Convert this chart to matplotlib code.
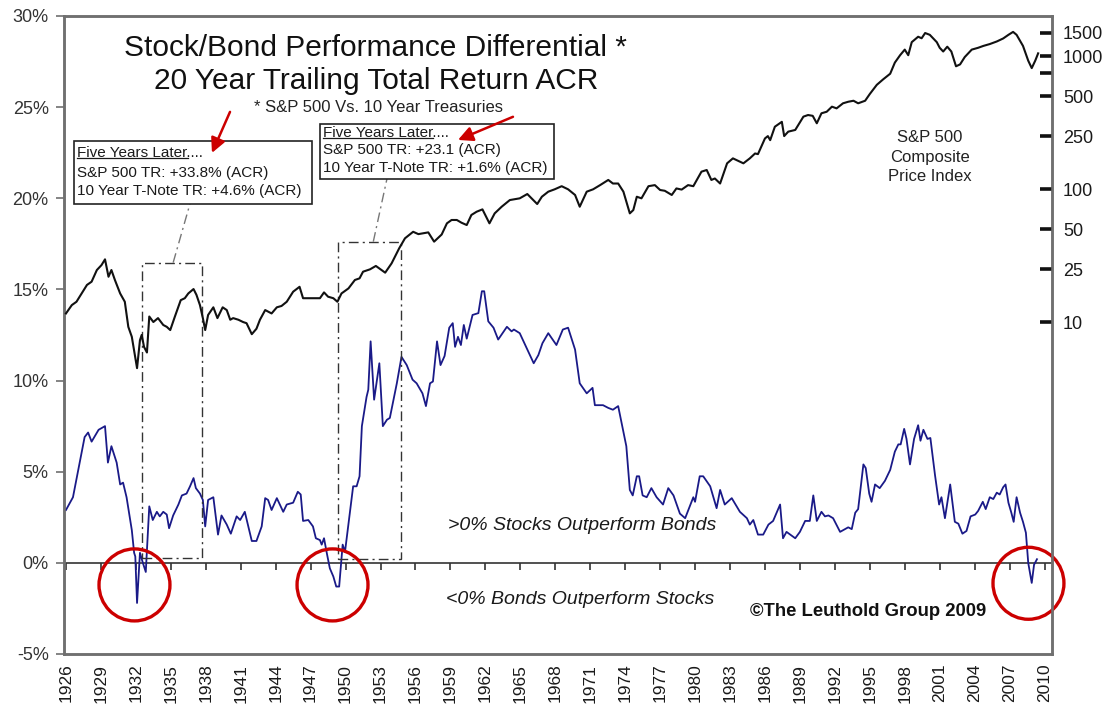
import matplotlib
matplotlib.use("Agg")
import matplotlib.pyplot as plt
from matplotlib.patches import Rectangle, Ellipse
from matplotlib.lines import Line2D
from matplotlib.ticker import NullLocator

plt.rcParams['font.family'] = ['Liberation Sans', 'DejaVu Sans']

# ---------------- data ----------------
x_ticks = list(range(1926, 2011, 3))
x_labels = [str(y) for y in x_ticks]
y_ticks = [-5, 0, 5, 10, 15, 20, 25, 30]
y_labels = ['-5%', '0%', '5%', '10%', '15%', '20%', '25%', '30%']
r_ticks = [10, 25, 50, 100, 250, 500, 750, 1000, 1500]
r_labels = ['10', '25', '50', '100', '250', '500', '', '1000', '1500']

# Stock/Bond 20y trailing total return differential (%)
blue_years = [1926.0, 1926.6, 1927.6, 1927.9, 1928.2, 1928.8, 1929.35, 1929.6, 1929.9, 1930.35,
              1930.65, 1930.9, 1931.2, 1931.65, 1931.85, 1931.95, 1932.1, 1932.35, 1932.6, 1932.85,
              1933.15, 1933.45, 1933.8, 1934.05, 1934.35, 1934.65, 1934.85, 1935.2, 1935.65, 1935.95,
              1936.35, 1936.65, 1936.95, 1937.15, 1937.5, 1937.75, 1937.95, 1938.2, 1938.65, 1939.05,
              1939.35, 1939.8, 1940.15, 1940.65, 1940.95, 1941.35, 1941.95, 1942.35, 1942.8, 1943.1,
              1943.35, 1943.65, 1944.1, 1944.65, 1944.95, 1945.5, 1945.9, 1946.15, 1946.35, 1946.8,
              1947.2, 1947.45, 1947.8, 1947.95, 1948.15, 1948.4, 1948.65, 1948.95, 1949.2, 1949.45,
              1949.75, 1949.95, 1950.4, 1950.65, 1950.95, 1951.2, 1951.4, 1951.8, 1951.95, 1952.15,
              1952.45, 1952.9, 1953.2, 1953.55, 1953.8, 1954.4, 1954.8, 1955.25, 1955.75, 1956.1,
              1956.6, 1956.9, 1957.25, 1957.5, 1957.85, 1958.15, 1958.5, 1958.9, 1959.2, 1959.4,
              1959.65, 1959.9, 1960.15, 1960.4, 1960.9, 1961.4, 1961.7, 1961.9, 1962.25, 1962.7,
              1963.1, 1963.85, 1964.25, 1964.45, 1964.95, 1965.6, 1966.15, 1966.55, 1966.9, 1967.4,
              1968.1, 1968.65, 1969.1, 1969.7, 1970.1, 1970.7, 1971.2, 1971.4, 1972.1, 1972.55,
              1972.95, 1973.4, 1973.7, 1974.1, 1974.4, 1974.65, 1975.0, 1975.2, 1975.5, 1975.85,
              1976.25, 1976.7, 1977.25, 1977.7, 1978.15, 1978.7, 1979.15, 1979.85, 1980.0, 1980.4,
              1980.7, 1981.3, 1981.85, 1982.15, 1982.55, 1983.15, 1983.85, 1984.45, 1984.7, 1985.0,
              1985.4, 1985.85, 1986.3, 1986.7, 1987.3, 1987.55, 1987.85, 1988.6, 1989.0, 1989.45,
              1989.85, 1990.15, 1990.45, 1990.85, 1991.15, 1991.45, 1991.85, 1992.45, 1993.15, 1993.45,
              1993.75, 1994.0, 1994.45, 1994.65, 1994.95, 1995.15, 1995.45, 1995.85, 1996.3, 1996.75,
              1997.15, 1997.45, 1997.65, 1997.95, 1998.15, 1998.45, 1998.8, 1999.15, 1999.35, 1999.6,
              1999.95, 2000.2, 2000.6, 2000.95, 2001.15, 2001.45, 2001.9, 2002.3, 2002.6, 2002.95,
              2003.3, 2003.65, 2004.05, 2004.3, 2004.7, 2004.95, 2005.3, 2005.6, 2005.9, 2006.15,
              2006.45, 2006.65, 2006.9, 2007.15, 2007.35, 2007.6, 2007.9, 2008.15, 2008.4, 2008.6,
              2008.9, 2009.1, 2009.35]
blue_vals = [2.9, 3.6, 6.9, 7.15, 6.65, 7.3, 7.5, 5.5, 6.4, 5.5,
             4.3, 4.4, 3.6, 1.8, 0.55, 0.35, -2.2, 0.55, 0.0, -0.5,
             3.1, 2.35, 2.8, 2.55, 2.8, 2.65, 1.9, 2.6, 3.2, 3.7,
             3.8, 4.2, 4.65, 4.1, 3.8, 3.45, 2.0, 3.45, 3.6, 1.55,
             2.6, 2.1, 1.6, 2.55, 2.35, 2.8, 1.2, 1.2, 2.0, 3.55,
             3.45, 2.9, 3.55, 2.8, 3.2, 3.3, 3.9, 3.75, 2.3, 2.35,
             2.0, 1.35, 1.25, 1.0, 1.35, 0.5, -0.3, -0.75, -1.3, -1.3,
             1.0, 0.6, 2.9, 4.2, 4.2, 4.75, 7.5, 9.1, 9.5, 12.15,
             8.95, 10.95, 7.5, 7.85, 7.95, 9.85, 11.3, 10.85, 10.05, 9.85,
             9.3, 8.6, 9.85, 9.95, 12.15, 10.85, 11.35, 12.9, 13.15, 11.85,
             12.4, 11.95, 13.05, 12.3, 13.6, 13.7, 14.9, 14.9, 13.25, 12.9,
             12.25, 12.95, 12.7, 12.8, 12.6, 11.7, 10.95, 11.4, 12.05, 12.6,
             11.95, 12.8, 12.9, 11.7, 9.85, 9.3, 9.6, 8.65, 8.65, 8.5,
             8.4, 8.6, 7.65, 6.4, 4.0, 3.7, 4.75, 4.75, 3.7, 3.6,
             4.1, 3.6, 3.2, 4.1, 3.7, 2.7, 2.45, 3.6, 3.35, 4.75,
             4.75, 4.2, 3.0, 4.0, 3.2, 3.55, 2.8, 2.45, 2.1, 2.35,
             1.55, 1.55, 2.1, 2.3, 3.2, 1.35, 1.7, 1.35, 1.7, 2.3,
             2.3, 3.7, 2.3, 2.8, 2.55, 2.6, 2.45, 1.7, 1.95, 1.85,
             2.75, 2.95, 5.4, 5.2, 3.8, 3.35, 4.3, 4.1, 4.5, 5.1,
             6.1, 6.5, 6.5, 7.35, 6.8, 5.4, 6.8, 7.55, 6.7, 7.3,
             6.8, 6.85, 4.8, 3.2, 3.6, 2.45, 4.3, 2.25, 2.15, 1.6,
             1.75, 2.55, 2.65, 2.85, 3.35, 2.95, 3.6, 3.5, 3.85, 3.75,
             4.15, 4.3, 3.3, 2.75, 2.25, 3.6, 2.75, 2.25, 1.65, 0.0,
             -1.1, -0.1, 0.2]

# S&P 500 composite price index (log, right axis)
spx_years = [1926.0, 1926.5, 1926.9, 1927.35, 1927.8, 1928.2, 1928.65, 1929.05, 1929.35, 1929.65,
             1929.9, 1930.2, 1930.65, 1931.05, 1931.35, 1931.65, 1932.1, 1932.35, 1932.5, 1932.7,
             1932.95, 1933.15, 1933.5, 1933.9, 1934.35, 1934.65, 1934.95, 1935.35, 1935.85, 1936.2,
             1936.5, 1936.95, 1937.2, 1937.5, 1937.75, 1937.95, 1938.2, 1938.65, 1939.0, 1939.45,
             1939.8, 1940.1, 1940.35, 1940.8, 1941.2, 1941.5, 1941.95, 1942.35, 1942.65, 1943.1,
             1943.65, 1944.1, 1944.5, 1944.95, 1945.5, 1946.05, 1946.35, 1946.95, 1947.8, 1948.15,
             1948.5, 1948.95, 1949.3, 1949.65, 1950.25, 1950.8, 1951.2, 1951.5, 1952.1, 1952.6,
             1953.4, 1953.95, 1954.6, 1955.1, 1955.8, 1956.25, 1957.1, 1957.6, 1958.25, 1958.7,
             1959.1, 1959.55, 1959.95, 1960.4, 1960.8, 1961.25, 1961.75, 1962.35, 1962.8, 1963.4,
             1964.1, 1964.95, 1965.6, 1966.45, 1966.85, 1967.4, 1967.95, 1968.55, 1969.1, 1969.7,
             1970.1, 1970.7, 1971.25, 1971.85, 1972.55, 1972.95, 1973.4, 1973.85, 1974.4, 1974.7,
             1975.0, 1975.4, 1976.0, 1976.55, 1977.0, 1977.4, 1978.0, 1978.4, 1978.85, 1979.4,
             1979.85, 1980.55, 1981.0, 1981.4, 1981.7, 1982.15, 1982.75, 1983.25, 1984.15, 1984.7,
             1985.15, 1985.4, 1986.0, 1986.25, 1986.45, 1986.85, 1987.45, 1987.65, 1988.0, 1988.6,
             1989.3, 1989.7, 1990.1, 1990.45, 1990.85, 1991.3, 1991.75, 1992.15, 1992.7, 1993.15,
             1993.6, 1994.0, 1994.6, 1995.0, 1995.6, 1996.15, 1996.75, 1997.15, 1997.6, 1998.0,
             1998.3, 1998.6, 1999.15, 1999.45, 1999.75, 2000.15, 2000.75, 2001.0, 2001.3, 2001.65,
             2002.0, 2002.4, 2002.75, 2003.15, 2003.75, 2004.3, 2004.75, 2005.3, 2005.9, 2006.45,
             2006.9, 2007.3, 2007.6, 2008.15, 2008.6, 2008.9, 2009.2, 2009.45]
spx_vals = [11.6, 13.4, 14.2, 16.4, 19.0, 20.1, 24.6, 26.8, 29.6, 21.9,
            24.6, 20.7, 16.4, 14.2, 9.2, 7.75, 4.5, 7.3, 8.0, 6.5,
            5.9, 11.0, 10.0, 10.7, 9.5, 9.2, 8.7, 11.0, 14.6, 15.1,
            16.4, 17.7, 16.0, 13.4, 10.7, 8.7, 11.3, 12.9, 10.7, 12.9,
            12.3, 10.4, 10.7, 10.4, 10.0, 9.8, 8.1, 8.9, 10.4, 12.3,
            11.6, 12.9, 13.2, 14.2, 16.9, 18.4, 15.1, 15.1, 15.1, 16.7,
            15.5, 15.1, 14.2, 16.4, 17.9, 20.7, 21.3, 23.9, 24.9, 26.4,
            23.5, 27.6, 35.8, 42.6, 47.7, 45.8, 47.2, 40.2, 45.5, 55.2,
            58.5, 58.5, 55.8, 53.6, 63.8, 67.5, 70.3, 55.2, 65.6, 73.6,
            82.6, 85.1, 91.7, 77.1, 87.5, 95.5, 99.5, 105, 99.5, 90.2,
            73.6, 95.5, 99.5, 107, 117, 110, 110, 95.5, 65.6, 69.5,
            87.5, 85.1, 105, 107, 98.3, 97, 90.2, 101, 99, 107,
            105, 135, 139, 117, 120, 110, 156, 170, 156, 170,
            185, 183, 240, 250, 233, 294, 320, 250, 270, 278,
            350, 360, 355, 312, 371, 381, 416, 404, 441, 453,
            461, 441, 461, 518, 607, 668, 736, 892, 1014, 1117,
            1014, 1271, 1396, 1360, 1489, 1443, 1271, 1153, 1081, 1175,
            1081, 837, 865, 982, 1117, 1153, 1191, 1230, 1286, 1355,
            1443, 1518, 1443, 1191, 922, 811, 922, 1047]

assert len(blue_years) == len(blue_vals)
assert len(spx_years) == len(spx_vals)

# ---------------- figure ----------------
W, H = 1117, 710
fig = plt.figure(figsize=(W / 100, H / 100), dpi=100)
ax = fig.add_axes([64 / W, 1 - 654 / H, (1052 - 64) / W, (654 - 16) / H])

frame_col = '#707070'
ax.plot(blue_years, blue_vals, color='#1a1a88', lw=1.3, zorder=3)
ax.set_xlim(1925.83, 2010.64)
ax.set_ylim(-5, 30)
ax.set_yticks(y_ticks)
ax.set_yticklabels(y_labels)
ax.set_xticks(x_ticks)
ax.set_xticklabels(x_labels, rotation=90)
ax.tick_params(axis='x', length=0, pad=7, labelsize=12.5, labelcolor='#1a1a1a')
ax.tick_params(axis='y', direction='out', length=6, width=1.2, color=frame_col,
               labelsize=13, pad=5, labelcolor='#333333')
for s in ax.spines.values():
    s.set_color(frame_col)
    s.set_linewidth(1.8)

# zero line with tick marks
sec = ax.secondary_xaxis(5 / 35)
sec.set_xticks(x_ticks)
sec.set_xticklabels([])
sec.tick_params(axis='x', direction='out', length=5, width=1.2, color='#333333')
for s in sec.spines.values():
    s.set_color('#333333')
    s.set_linewidth(1.2)

# right log axis
ax2 = ax.twinx()
ax2.set_yscale('log')
ax2.set_ylim(10 ** -1.496, 10 ** 3.3008)
ax2.plot(spx_years, spx_vals, color='#111111', lw=1.5, zorder=3)
ax2.set_yticks(r_ticks)
ax2.set_yticklabels(r_labels)
ax2.yaxis.set_minor_locator(NullLocator())
ax2.tick_params(axis='y', direction='in', length=9, width=2.6, color='#111111',
                labelsize=13, pad=8, labelcolor='#1a1a1a')
for s in ax2.spines.values():
    s.set_color(frame_col)
    s.set_linewidth(1.8)

# ---------------- annotations ----------------
ax.text(1952.6, 28.25, 'Stock/Bond Performance Differential *', ha='center', va='center',
        fontsize=21.5, color='#111111')
ax.text(1952.6, 26.44, '20 Year Trailing Total Return ACR', ha='center', va='center',
        fontsize=21.5, color='#111111')
ax.text(1952.8, 25.0, '* S&P 500 Vs. 10 Year Treasuries', ha='center', va='center',
        fontsize=12, color='#222222')

ax.text(2000.15, 22.25, 'S&P 500\nComposite\nPrice Index', ha='center', va='center',
        fontsize=12, color='#222222', linespacing=1.38)

ax.text(1970.33, 2.03, '>0% Stocks Outperform Bonds', ha='center', va='center',
        fontsize=14, style='italic', color='#1a1a1a')
ax.text(1970.16, -2.03, '<0% Bonds Outperform Stocks', ha='center', va='center',
        fontsize=14, style='italic', color='#1a1a1a')
ax.text(1994.84, -2.69, '\u00a9The Leuthold Group 2009', ha='center', va='center',
        fontsize=13.3, fontweight='bold', color='#111111')

# boxes
ax.add_patch(Rectangle((1926.69, 19.69), 1947.09 - 1926.69, 23.17 - 19.69, fill=True,
                       facecolor='white', edgecolor='#222222', lw=1.2, zorder=5))
ax.add_patch(Rectangle((1947.80, 21.06), 1967.91 - 1947.80, 24.08 - 21.06, fill=True,
                       facecolor='white', edgecolor='#222222', lw=1.2, zorder=5))

box_fs = 11
under = []
ax.text(1926.97, 22.47, 'Five Years Later....', fontsize=box_fs, va='center', zorder=6, color='#1a1a1a')
tu = ax.text(1926.97, 22.47, 'Five Years Later', fontsize=box_fs, va='center', zorder=6, alpha=0)
under.append(tu)
ax.text(1926.97, 21.41, 'S&P 500 TR: +33.8% (ACR)', fontsize=box_fs, va='center', zorder=6, color='#1a1a1a')
ax.text(1926.97, 20.42, '10 Year T-Note TR: +4.6% (ACR)', fontsize=box_fs, va='center', zorder=6, color='#1a1a1a')

ax.text(1948.03, 23.57, 'Five Years Later....', fontsize=box_fs, va='center', zorder=6, color='#1a1a1a')
tu = ax.text(1948.03, 23.57, 'Five Years Later', fontsize=box_fs, va='center', zorder=6, alpha=0)
under.append(tu)
ax.text(1948.03, 22.66, 'S&P 500 TR: +23.1 (ACR)', fontsize=box_fs, va='center', zorder=6, color='#1a1a1a')
ax.text(1948.03, 21.68, '10 Year T-Note TR: +1.6% (ACR)', fontsize=box_fs, va='center', zorder=6, color='#1a1a1a')

# dash-dot rectangles marking the five-year windows
dd = (0, (7, 3, 1.5, 3))
ax.add_patch(Rectangle((1932.5, 0.27), 1937.65 - 1932.5, 16.47 - 0.27, fill=False,
                       edgecolor='#333333', lw=1.0, linestyle=dd, zorder=4))
ax.add_patch(Rectangle((1949.37, 0.22), 1954.76 - 1949.37, 17.62 - 0.22, fill=False,
                       edgecolor='#333333', lw=1.0, linestyle=dd, zorder=4))
ax.plot([1935.2, 1936.64], [16.47, 19.69], color='#777777', lw=1.0, linestyle=dd, zorder=4)
ax.plot([1952.38, 1953.55], [17.62, 21.06], color='#777777', lw=1.0, linestyle=dd, zorder=4)

# red arrows
arrow_kw = dict(arrowstyle='-|>', color='#cc0000', lw=1.8, mutation_scale=22, shrinkA=0, shrinkB=0)
ax.annotate('', xy=(1938.53, 22.49), xytext=(1940.08, 24.74), arrowprops=arrow_kw, zorder=7)
ax.annotate('', xy=(1959.65, 23.2), xytext=(1964.37, 24.47), arrowprops=arrow_kw, zorder=7)

# red circles
for cx, cy in [(1931.88, -1.21), (1948.88, -1.21), (2008.62, -1.12)]:
    ax.add_patch(Ellipse((cx, cy), 6.09, 3.95, fill=False, edgecolor='#cc0000', lw=2.4,
                         clip_on=False, zorder=8))

# underline "Five Years Later"
fig.canvas.draw()
renderer = fig.canvas.get_renderer()
for tu in under:
    bb = tu.get_window_extent(renderer)
    y = bb.y0 + 2.5
    fig.add_artist(Line2D([bb.x0 / W, bb.x1 / W], [y / H, y / H], transform=fig.transFigure,
                          color='#1a1a1a', lw=0.9, zorder=9))

fig.savefig('out.png', dpi=100)
